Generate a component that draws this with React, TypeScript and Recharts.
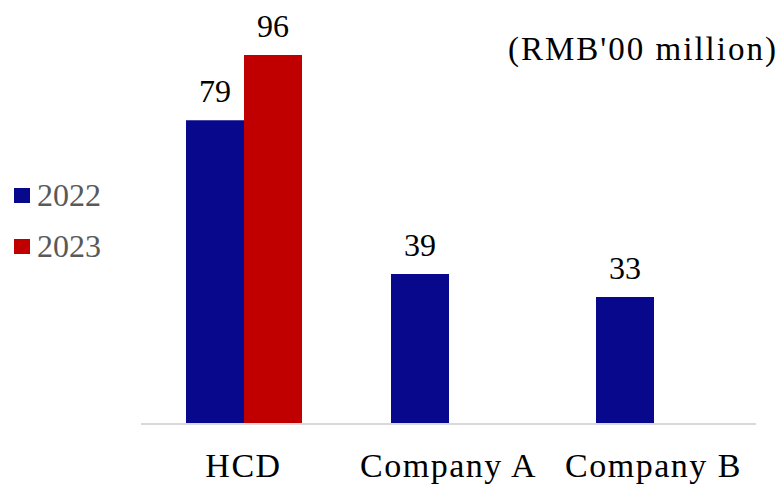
import React from 'react';
import { BarChart, Bar, XAxis, YAxis, LabelList } from 'recharts';

const companies = ['HCD', 'Company A', 'Company B'];
const revenue2022 = [79, 39, 33];
const revenue2023: (number | null)[] = [96, null, null];
const years = ['2022', '2023'];

const BLUE = '#08088C';
const RED = '#C00000';
const SERIF = '"Liberation Serif", "Times New Roman", serif';

const data = companies.map((name, i) => ({
  name,
  y2022: revenue2022[i],
  y2023: revenue2023[i],
}));

const CategoryTick = (props: any) => {
  const { x, y, payload } = props;
  return (
    <text
      x={x}
      y={y}
      dy={53}
      textAnchor="middle"
      fill="#000"
      fontFamily={SERIF}
      fontSize={34}
      letterSpacing={1.5}
    >
      {payload.value}
    </text>
  );
};

const App: React.FC = () => {
  const swatches = [BLUE, RED];
  return (
    <div style={{ position: 'relative', width: 781, height: 486, background: '#fff' }}>
      <style>{'body { margin: 0; }'}</style>
      <BarChart
        width={781}
        height={486}
        data={data}
        margin={{ top: 39.5, right: 25, bottom: 2, left: 141 }}
        barGap={0}
        barSize={58}
      >
        <XAxis
          dataKey="name"
          height={60}
          tickLine={false}
          tickSize={0}
          tickMargin={0}
          axisLine={{ stroke: '#D9D9D9', strokeWidth: 2 }}
          tick={<CategoryTick />}
          interval={0}
        />
        <YAxis hide domain={[0, 100]} />
        <Bar dataKey="y2022" fill={BLUE} isAnimationActive={false}>
          <LabelList
            dataKey="y2022"
            position="top"
            offset={18}
            fill="#000"
            fontFamily={SERIF}
            fontSize={32}
          />
        </Bar>
        <Bar dataKey="y2023" fill={RED} isAnimationActive={false}>
          <LabelList
            dataKey="y2023"
            position="top"
            offset={18}
            fill="#000"
            fontFamily={SERIF}
            fontSize={32}
          />
        </Bar>
      </BarChart>

      {/* legend on the left */}
      {years.map((year, i) => (
        <div
          key={year}
          style={{
            position: 'absolute',
            left: 14,
            top: 178 + i * 51,
            display: 'flex',
            alignItems: 'center',
            fontFamily: SERIF,
            fontSize: 32,
            color: '#595959',
            lineHeight: '34px',
          }}
        >
          <span style={{ display: 'inline-block', width: 16, height: 15, background: swatches[i], marginRight: 7 }} />
          <span>{year}</span>
        </div>
      ))}

      <div
        style={{
          position: 'absolute',
          left: 508,
          top: 30,
          fontFamily: SERIF,
          fontSize: 33,
          letterSpacing: 2,
          color: '#000',
          lineHeight: '38px',
          whiteSpace: 'nowrap',
        }}
      >
        (RMB'00 million)
      </div>
    </div>
  );
};

export default App;
